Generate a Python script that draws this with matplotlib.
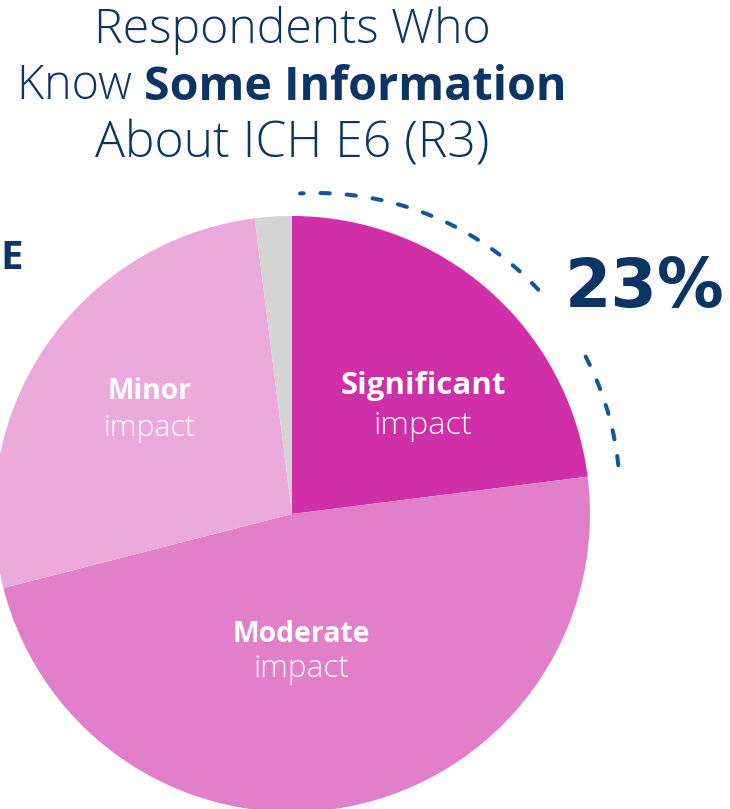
import matplotlib
matplotlib.use("Agg")
import matplotlib.pyplot as plt
import numpy as np

# ---- data ----
categories = ["Significant", "Moderate", "Minor", "Other"]
values = [23, 48, 27, 2]
colors = ["#D12FA8", "#E17FCA", "#ECAADC", "#D4D4D4"]
label_bold = ["Significant", "Moderate", "Minor"]
label_light = ["impact", "impact", "impact"]
highlight = "23%"
title_lines = ["Respondents Who", ("Know ", "Some Information"), "About ICH E6 (R3)"]

NAVY = "#0C3566"
ARC = "#0E56A0"
W, H = 730, 809
FONT = "Open Sans"

fig = plt.figure(figsize=(W / 100, H / 100), dpi=100)
ax = fig.add_axes([0, 0, 1, 1])
renderer = fig.canvas.get_renderer()

cx, cy, r = 292, H - 514, 298
wedges, _ = ax.pie(values, colors=colors, startangle=90, counterclock=False,
                   center=(cx, cy), radius=r, frame=True,
                   wedgeprops=dict(linewidth=0))
ax.set_xlim(0, W)
ax.set_ylim(0, H)
ax.set_aspect("equal")
ax.axis("off")

# dashed arc around the highlighted slice
acx, acy, ar = 316, H - 497, 304
for a0, a1 in [(43, 93), (6, 29)]:
    t = np.radians(np.linspace(a0, a1, 200))
    ax.plot(acx + ar * np.cos(t), acy + ar * np.sin(t), color=ARC, lw=2.9,
            linestyle=(0, (2.3, 4.2)), dash_capstyle="round", solid_capstyle="round")


def fitted(x, y, s, width, weight, color, ha="center", fs0=20, family=FONT):
    t = ax.text(x, y, s, fontsize=fs0, fontweight=weight, family=family,
                color=color, ha=ha, va="center")
    w = t.get_window_extent(renderer).width
    t.set_fontsize(fs0 * width / w)
    return t


fitted(645, H - 288, highlight, 160, "bold", NAVY, fs0=50, family="DejaVu Sans")

# slice labels: (x, y bold, y light, width bold, width light)
label_pos = [(423, 386, 426, 165, 99), (301, 634, 669, 138, 96), (150, 391, 428, 84, 92)]
for (x, yb, yl, wb, wl), b, l in zip(label_pos, label_bold, label_light):
    fitted(x, H - yb, b, wb, "bold", "white")
    fitted(x, H - yl, l, wl, "light", "white")

# title
fitted(292, H - 30, title_lines[0], 399, "light", NAVY, fs0=32)
fitted(292, H - 144, title_lines[2], 395, "light", NAVY, fs0=32)
t1 = ax.text(0, H - 87, title_lines[1][0], fontsize=32, fontweight="light", family=FONT,
             color=NAVY, ha="left", va="center")
t2 = ax.text(0, H - 87, title_lines[1][1], fontsize=32, fontweight="bold", family=FONT,
             color=NAVY, ha="left", va="center")
w1 = t1.get_window_extent(renderer).width
w2 = t2.get_window_extent(renderer).width
k = 550 / (w1 + w2)
t1.set_fontsize(32 * k)
t2.set_fontsize(32 * k)
x0 = 292 - 550 / 2
t1.set_x(x0)
t2.set_x(x0 + w1 * k)

# fragment of neighbouring panel
ax.text(0, H - 258, "E", fontsize=29, fontweight="bold", family=FONT,
        color=NAVY, ha="left", va="center")

fig.savefig("out.png", dpi=100)
